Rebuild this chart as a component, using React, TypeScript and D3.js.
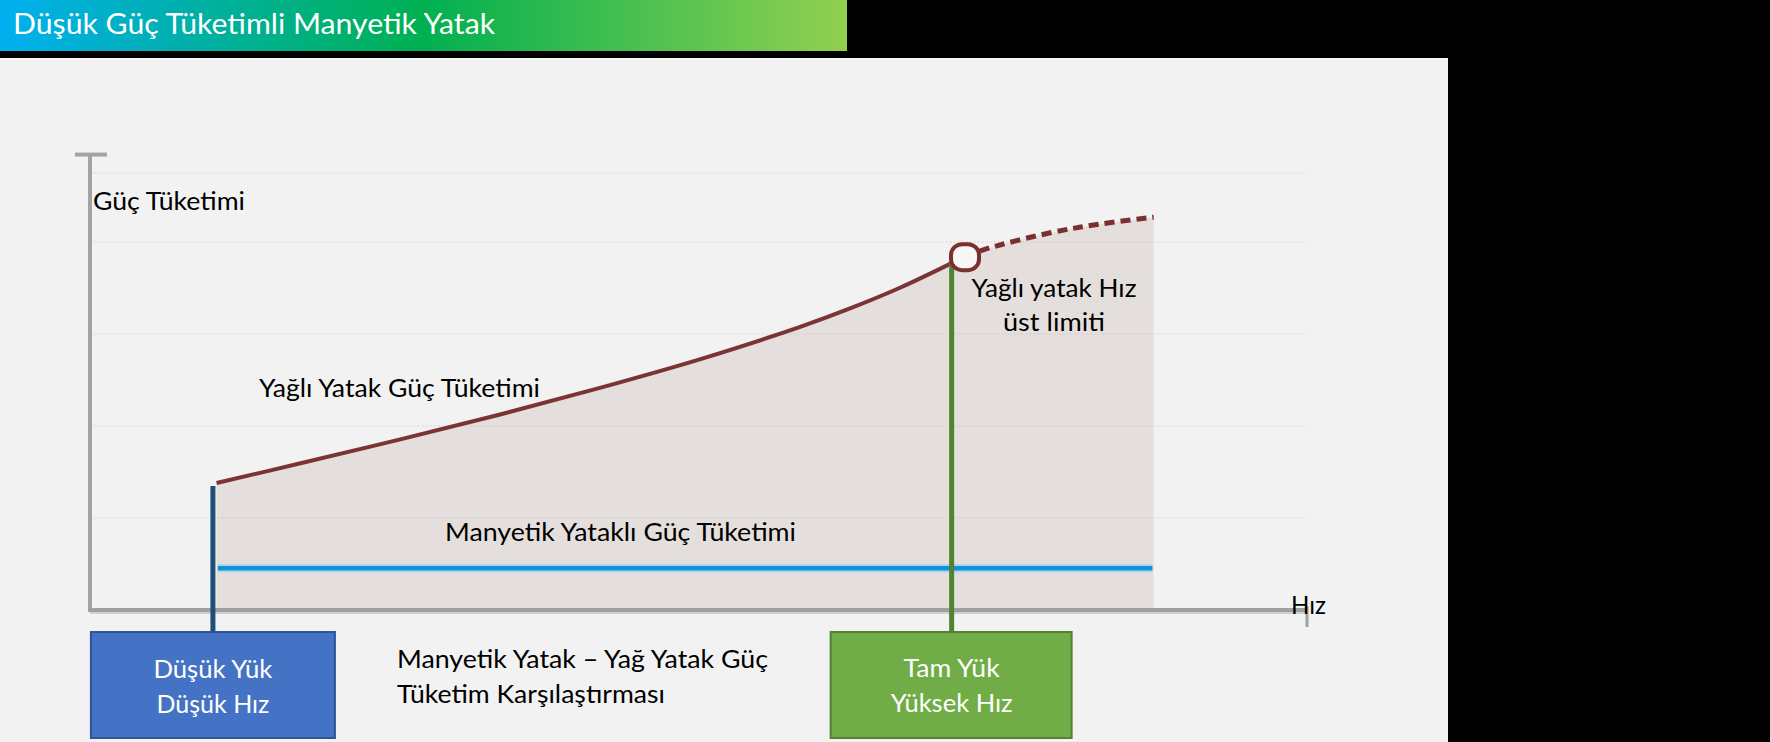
import React from "react";
import * as d3 from "d3";

const W = 1770;
const H = 742;

// Oil bearing power consumption (solid part, up to its speed limit)
const oilSpeed = [10.4, 17.3, 25.5, 33.7, 41.9, 50.1, 58.3, 62.4, 66.6, 70.8];
const oilPower = [27.6, 31.9, 37.1, 42.5, 48.3, 54.5, 61.5, 65.5, 70.1, 75.4];
// Oil bearing beyond its speed limit (dashed)
const beyondSpeed = [71.9, 73.4, 78.9, 83.0, 87.4];
const beyondPower = [76.7, 78.3, 82.0, 83.9, 85.4];
// Magnetic bearing power consumption (flat)
const magSpeed = [10.5, 87.3];
const magPower = [9.1, 9.1];
// Operating points
const lowLoadSpeed = 10.1;
const fullLoadSpeed = 70.8;
const limitSpeed = 71.9;
const limitPower = 76.7;
// Faint gridlines
const gridPower = [20, 40, 60, 80, 95];

const title = "Düşük Güç Tüketimli Manyetik Yatak";
const yLabel = "Güç Tüketimi";
const xLabel = "Hız";
const oilLabel = "Yağlı Yatak Güç Tüketimi";
const magLabel = "Manyetik Yataklı Güç Tüketimi";
const limitLabel = ["Yağlı yatak Hız", "üst limiti"];
const lowBox = ["Düşük Yük", "Düşük Hız"];
const fullBox = ["Tam Yük", "Yüksek Hız"];
const caption = ["Manyetik Yatak – Yağ Yatak Güç", "Tüketim Karşılaştırması"];

const FONT = "Lato, 'Open Sans', sans-serif";

type P = [number, number];

export default function App() {
  const x = d3.scaleLinear().domain([0, 100]).range([90, 1307]);
  const y = d3.scaleLinear().domain([0, 100]).range([610, 150]);

  const oil: P[] = oilSpeed.map((s, i) => [s, oilPower[i]]);
  const beyond: P[] = beyondSpeed.map((s, i) => [s, beyondPower[i]]);
  const mag: P[] = magSpeed.map((s, i) => [s, magPower[i]]);
  const areaPts: P[] = [...oil, ...beyond];

  const line = d3
    .line<P>()
    .x((d) => x(d[0]))
    .y((d) => y(d[1]))
    .curve(d3.curveCatmullRom.alpha(0.5));
  const area = d3
    .area<P>()
    .x((d) => x(d[0]))
    .y0(y(0))
    .y1((d) => y(d[1]))
    .curve(d3.curveCatmullRom.alpha(0.5));

  const boxTop = 632;
  const boxBottom = 738;
  const boxW = 244;

  const txt = (
    s: string,
    px: number,
    py: number,
    len: number,
    opts: { anchor?: string; fill?: string; size?: number } = {}
  ) => (
    <text
      key={s + px + py}
      x={px}
      y={py}
      textAnchor={opts.anchor || "start"}
      fill={opts.fill || "#000"}
      fontSize={opts.size || 25.5}
      fontFamily={FONT}
      textLength={len}
      lengthAdjust="spacingAndGlyphs"
    >
      {s}
    </text>
  );

  return (
    <div style={{ position: "fixed", left: 0, top: 0, width: W, height: H, background: "#000" }}>
      <style>{`body{margin:0;background:#000;}`}</style>
      <svg width={W} height={H} viewBox={`0 0 ${W} ${H}`} style={{ display: "block" }}>
        <defs>
          <linearGradient id="titleGrad" x1="0" y1="0" x2="1" y2="0">
            <stop offset="0" stopColor="#00b0f0" />
            <stop offset="0.5" stopColor="#00b050" />
            <stop offset="1" stopColor="#92d050" />
          </linearGradient>
        </defs>
        <rect x={0} y={0} width={W} height={H} fill="#000" />
        {/* title bar */}
        <rect x={0} y={0} width={847} height={51} fill="url(#titleGrad)" />
        {txt(title, 13, 34, 482, { fill: "#fff", size: 29 })}
        {/* panel */}
        <rect x={0} y={58} width={1448} height={H - 58} fill="#f2f2f2" />
        <rect x={0} y={58} width={1448} height={2} fill="#f8f8f8" />

        {/* shaded area */}
        <path d={area(areaPts) || ""} fill="#e4dfdc" />

        {/* gridlines */}
        {gridPower.map((g) => (
          <line
            key={g}
            x1={x(0.3)}
            x2={x(100)}
            y1={y(g)}
            y2={y(g)}
            stroke="#c4c4c4"
            strokeOpacity={0.3}
            strokeWidth={2}
            strokeDasharray="2 2"
          />
        ))}

        {/* axes */}
        <line x1={x(0)} x2={x(0)} y1={y(99)} y2={y(0) + 2} stroke="#a3a3a3" strokeWidth={4} />
        <line x1={x(0) - 15} x2={x(0) + 17} y1={y(99)} y2={y(99)} stroke="#a3a3a3" strokeWidth={4} />
        <line x1={x(0)} x2={x(100)} y1={y(0) + 3} y2={y(0) + 3} stroke="#d0d0d0" strokeWidth={2} />
        <line x1={x(0) - 2} x2={x(100)} y1={y(0)} y2={y(0)} stroke="#a0a0a0" strokeWidth={4} />
        <line x1={x(100)} x2={x(100)} y1={y(0) - 4} y2={y(0) + 17} stroke="#a0a0a0" strokeWidth={3} />

        {/* magnetic bearing line */}
        <path d={line(mag) || ""} fill="none" stroke="#a8d5ee" strokeWidth={8} />
        <path d={line(mag) || ""} fill="none" stroke="#0f93d6" strokeWidth={4.5} />

        {/* oil bearing */}
        <path d={line(beyond) || ""} fill="none" stroke="#7b2f2f" strokeWidth={5} strokeDasharray="10 6" />
        <path d={line(oil) || ""} fill="none" stroke="#7b3333" strokeWidth={4} />

        {/* low-load marker */}
        <line
          x1={x(lowLoadSpeed)}
          x2={x(lowLoadSpeed)}
          y1={y(oilPower[0]) + 3}
          y2={boxTop}
          stroke="#1f4e79"
          strokeWidth={5}
        />
        {/* full-load marker */}
        <line
          x1={x(fullLoadSpeed)}
          x2={x(fullLoadSpeed)}
          y1={y(oilPower[oilPower.length - 1])}
          y2={boxTop}
          stroke="#548235"
          strokeWidth={5}
        />
        {/* speed limit marker */}
        <rect
          x={x(limitSpeed) - 14}
          y={y(limitPower) - 13}
          width={28}
          height={26}
          rx={11}
          fill="#f7f7f7"
          stroke="#7b2f2f"
          strokeWidth={4}
        />

        {/* boxes */}
        <rect
          x={x(lowLoadSpeed) - boxW / 2}
          y={boxTop}
          width={boxW}
          height={boxBottom - boxTop}
          fill="#4472c4"
          stroke="#2f5597"
          strokeWidth={2}
        />
        <rect
          x={x(fullLoadSpeed) - 121}
          y={boxTop}
          width={241}
          height={boxBottom - boxTop}
          fill="#70ad47"
          stroke="#548235"
          strokeWidth={2}
        />
        {txt(lowBox[0], x(lowLoadSpeed), 678, 119, { anchor: "middle", fill: "#fff" })}
        {txt(lowBox[1], x(lowLoadSpeed), 713, 113, { anchor: "middle", fill: "#fff" })}
        {txt(fullBox[0], x(fullLoadSpeed), 677, 96, { anchor: "middle", fill: "#fff" })}
        {txt(fullBox[1], x(fullLoadSpeed), 712, 122, { anchor: "middle", fill: "#fff" })}

        {/* labels */}
        {txt(yLabel, 93, 210, 152)}
        {txt(xLabel, 1291, 614, 35)}
        {txt(oilLabel, 259, 397, 281)}
        {txt(limitLabel[0], 1054, 297, 165, { anchor: "middle" })}
        {txt(limitLabel[1], 1054, 331, 102, { anchor: "middle" })}
        {txt(magLabel, 445, 541, 351)}
        {txt(caption[0], 397, 668, 371)}
        {txt(caption[1], 397, 703, 268)}
      </svg>
    </div>
  );
}
